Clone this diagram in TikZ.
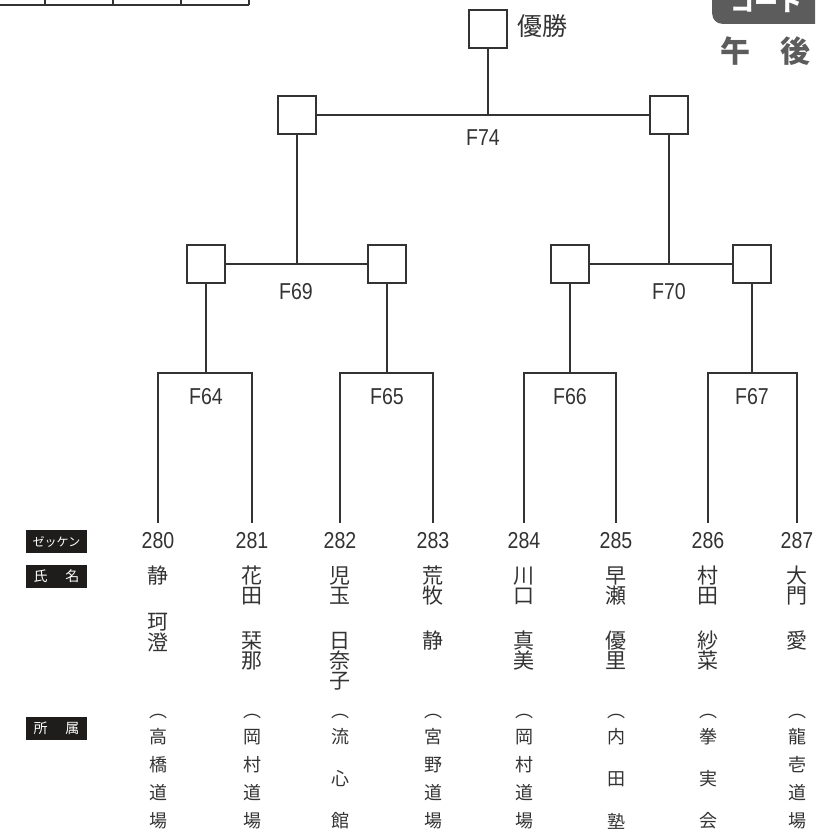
\documentclass[tikz,border=0pt]{standalone}
\usepackage{fontspec}
\setmainfont[FakeStretch=0.85]{Liberation Sans}
\newfontfamily\jp{Noto Sans CJK JP}
\usetikzlibrary{positioning}
\definecolor{BracketInk}{rgb}{.2,.2,.2}
\definecolor{TagBlack}{rgb}{.12,.11,.11}
\definecolor{CourtGray}{rgb}{.36,.36,.36}

\begin{document}
\begin{tikzpicture}[x=1pt, y=-1pt,
  slot/.style={rectangle, draw=BracketInk, line width=1.6pt, fill=white, minimum size=38pt, inner sep=0pt},
  link/.style={draw=BracketInk, line width=1.6pt},
  match/.style={font=\fontsize{23}{23}\selectfont, text=BracketInk, inner sep=0pt},
  tag/.style={fill=TagBlack, text=white, minimum width=61pt, minimum height=23pt, inner sep=0pt},
  namech/.style={font=\jp\fontsize{21}{21}\selectfont, text=BracketInk, inner sep=0pt},
  affch/.style={font=\jp\fontsize{18}{18}\selectfont, text=BracketInk, inner sep=0pt}]
  \clip (0,0) rectangle (815,835);
  %
  % corner of the table above, cut off:
  \draw[line width=1.3pt, BracketInk] (-5,5) -- (249,5);
  \foreach \tx in {45,113,181,249}
    \draw[line width=1.3pt, BracketInk] (\tx,-5) -- (\tx,5);
  %
  % court tag:
  \node [rectangle, rounded corners=10pt, fill=CourtGray, minimum width=130pt, minimum height=50pt, anchor=south west] (court) at (712,24) {};
  \node [font=\jp\bfseries\fontsize{24}{24}\selectfont, text=white] (courtlbl) at (766,3) {コート};
  \node [font=\jp\bfseries\fontsize{30}{30}\selectfont, text=CourtGray] (ampm) at (765.5,51) {午\hspace{30pt}後};
  %
  % winner slots:
  \node [slot] (champ) at (488,29) {};
  \node [font=\jp\fontsize{25}{25}\selectfont, text=BracketInk, inner sep=0pt, right=9pt of champ, yshift=3pt] (champlbl) {優勝};
  \node [slot] (w69) at (297,115) {};
  \node [slot] (w70) at (669,115) {};
  \node [slot] (w64) at (206,264) {};
  \node [slot] (w65) at (387,264) {};
  \node [slot] (w66) at (570,264) {};
  \node [slot] (w67) at (752,264) {};
  %
  % players: x / number / family name / given name / its start / dojo / pitch
  \foreach \lx/\num/\sei/\mei/\my/\aff/\ap [count=\i] in {
    158/280/{静}/{珂,澄}/622/{高,橋,道,場}/28,
    252/281/{花,田}/{栞,那}/641/{岡,村,道,場}/28,
    340/282/{児,玉}/{日,奈,子}/641/{流,心,館}/42,
    433/283/{荒,牧}/{静}/641/{宮,野,道,場}/28,
    524/284/{川,口}/{真,美}/641/{岡,村,道,場}/28,
    616/285/{早,瀬}/{優,里}/641/{内,田,塾}/42,
    708/286/{村,田}/{紗,菜}/641/{拳,実,会}/42,
    797/287/{大,門}/{愛}/641/{龍,壱,道,場}/28} {
    \coordinate (p\i) at (\lx,523);
    \node [match] (num\i) at (\lx,541) {\num};
    \foreach \c [count=\k] in \sei
      \node [namech] (sei\i-\k) at (\lx,556+20*\k) {\c};
    \foreach \c [count=\k] in \mei
      \node [namech] (mei\i-\k) at (\lx,\my-20+20*\k) {\c};
    \node [affch] (open\i) at (\lx,716) {︵};
    \foreach \c [count=\k] in \aff
      \node [affch] (aff\i-\k) at (\lx,737-\ap+\ap*\k) {\c};
    \node [affch] (close\i) at (\lx,843) {︶};
  }
  %
  % first round brackets:
  \coordinate (m64) at (w64 |- 0,373);
  \coordinate (m65) at (w65 |- 0,373);
  \coordinate (m66) at (w66 |- 0,373);
  \coordinate (m67) at (w67 |- 0,373);
  \draw [link] (p1) |- (m64) -| (p2);
  \draw [link] (p3) |- (m65) -| (p4);
  \draw [link] (p5) |- (m66) -| (p6);
  \draw [link] (p7) |- (m67) -| (p8);
  \draw [link] (w64) -- (m64);
  \draw [link] (w65) -- (m65);
  \draw [link] (w66) -- (m66);
  \draw [link] (w67) -- (m67);
  %
  % later rounds:
  \draw [link] (w64) -- (w65);
  \draw [link] (w66) -- (w67);
  \draw [link] (w69) -- (w69 |- w64);
  \draw [link] (w70) -- (w70 |- w66);
  \draw [link] (w69) -- (w70);
  \draw [link] (champ) -- (champ |- w69);
  %
  \node [match] (f64) at (206,397) {F64};
  \node [match] (f65) at (387,397) {F65};
  \node [match] (f66) at (570,397) {F66};
  \node [match] (f67) at (752,397) {F67};
  \node [match] (f69) at (296,292) {F69};
  \node [match] (f70) at (669,292) {F70};
  \node [match] (f74) at (483,138) {F74};
  %
  % row tags:
  \node [tag, font=\jp\fontsize{12}{12}\selectfont] (tagnum) at (56.5,541.5) {ゼッケン};
  \node [tag, font=\jp\fontsize{14}{14}\selectfont] (tagname) at (56.5,576.5) {氏\hspace{18pt}名};
  \node [tag, font=\jp\fontsize{14}{14}\selectfont] (tagaff) at (56.5,728.5) {所\hspace{18pt}属};
\end{tikzpicture}
\end{document}
